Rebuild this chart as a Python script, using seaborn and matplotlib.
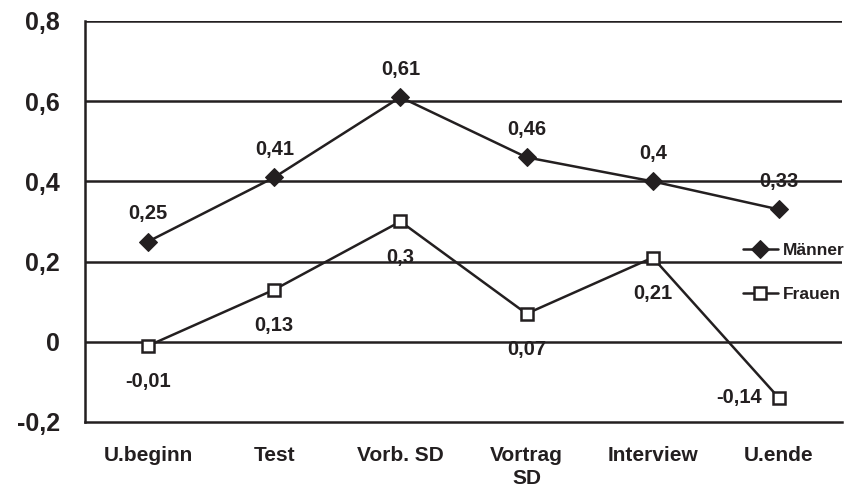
"""Linienchart: Maenner vs. Frauen ueber Unterrichtsphasen."""

import matplotlib
matplotlib.use("Agg")
import matplotlib.pyplot as plt
import numpy as np
import pandas as pd
import seaborn as sns

# Daten
phasen = ["U.beginn", "Test", "Vorb. SD", "Vortrag\nSD", "Interview", "U.ende"]
maenner = [0.25, 0.41, 0.61, 0.46, 0.40, 0.33]
frauen = [-0.01, 0.13, 0.30, 0.07, 0.21, -0.14]
y_ticks = [-0.2, 0.0, 0.2, 0.4, 0.6, 0.8]

INK = "#231f20"


def fmt(v):
    s = f"{v:.2f}".rstrip("0").rstrip(".")
    if s in ("-0", ""):
        s = "0"
    return s.replace(".", ",")


sns.set_style("white")
plt.rcParams["font.family"] = ["Liberation Sans", "DejaVu Sans"]
plt.rcParams["font.weight"] = "bold"

df = pd.DataFrame({"x": np.arange(len(phasen)), "Männer": maenner, "Frauen": frauen})

fig = plt.figure(figsize=(8.51, 4.96), dpi=100)
ax = fig.add_axes([0.0999, 0.1492, 0.8895, 0.8085])

# Gitterlinien
for y in y_ticks[1:]:
    ax.axhline(y, color=INK, lw=1.8, zorder=1)

sns.lineplot(data=df, x="x", y="Männer", ax=ax, color=INK, lw=1.8,
             marker="D", markersize=9, markerfacecolor=INK,
             markeredgecolor=INK, label="Männer", zorder=3)
sns.lineplot(data=df, x="x", y="Frauen", ax=ax, color=INK, lw=1.8,
             marker="s", markersize=9, markerfacecolor="white",
             markeredgecolor=INK, markeredgewidth=1.8,
             label="Frauen", zorder=3)

# Beschriftungen
for i, v in enumerate(maenner):
    ax.annotate(fmt(v), (i, v), xytext=(0, 20), textcoords="offset points",
                ha="center", va="center", fontsize=14.5, fontweight="bold",
                color=INK, zorder=2)
for i, v in enumerate(frauen):
    if i == len(frauen) - 1:
        xy_off, ha = (-12, 0), "right"
    else:
        xy_off, ha = (0, -26), "center"
    ax.annotate(fmt(v), (i, v), xytext=xy_off, textcoords="offset points",
                ha=ha, va="center", fontsize=14.5, fontweight="bold",
                color=INK, zorder=2)

ax.set_xlim(-0.5, len(phasen) - 0.5)
ax.set_ylim(-0.2, 0.8)
ax.set_yticks(y_ticks)
ax.set_yticklabels([fmt(v) for v in y_ticks], fontsize=18, fontweight="bold",
                   color=INK)
ax.set_xticks(np.arange(len(phasen)))
ax.set_xticklabels(phasen, fontsize=15, fontweight="bold", color=INK,
                   linespacing=1.3)
ax.set_xticks(np.arange(len(phasen) + 1) - 0.5, minor=True)
ax.tick_params(axis="x", which="major", length=0, pad=17)
ax.tick_params(axis="x", which="minor", length=5, width=1.8, color=INK,
               direction="out")
ax.tick_params(axis="y", length=0, pad=18)
ax.set_xlabel("")
ax.set_ylabel("")

for side in ["top", "right"]:
    ax.spines[side].set_visible(False)
for side in ["left", "bottom"]:
    ax.spines[side].set_color(INK)
    ax.spines[side].set_linewidth(1.8)
    ax.spines[side].set_zorder(1)

leg = ax.legend(loc="center left", bbox_to_anchor=(0.869, 0.373), frameon=False,
                fontsize=12.5, handlelength=2.0, handletextpad=0.3,
                labelspacing=1.65, borderaxespad=0, borderpad=0)
for t in leg.get_texts():
    t.set_fontweight("bold")
    t.set_color(INK)

fig.savefig("out.png", dpi=100)
